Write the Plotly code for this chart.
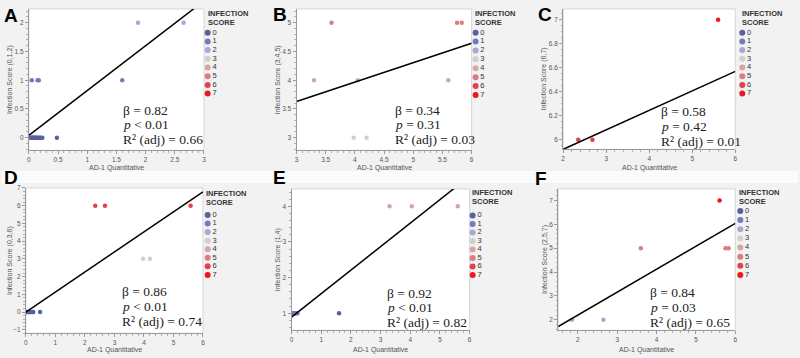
import plotly.graph_objects as go

W, H = 800, 358

# ---------------- data ----------------
score_labels = ["0", "1", "2", "3", "4", "5", "6", "7"]
score_colors = ["#56619e", "#7679c0", "#a7a8d5", "#d0d0d0", "#d6a5a8", "#d87e84", "#e3414b", "#ee1620"]

panel_letters = ["A", "B", "C", "D", "E", "F"]
y_titles = ["Infection Score (0,1,2)", "Infection Score (3,4,5)", "Infection Score (6,7)",
            "Infection Score (0,3,6)", "Infection Score (1,4)", "Infection Score (2,5,7)"]
x_title = "AD-1 Quantitative"

A_x = [0.03, 0.05, 0.06, 0.08, 0.09, 0.11, 0.12, 0.14, 0.16, 0.18, 0.20, 0.23, 0.48, 0.05, 0.15, 0.17, 1.60, 1.87, 2.65]
A_y = [0, 0, 0, 0, 0, 0, 0, 0, 0, 0, 0, 0, 0, 1, 1, 1, 1, 2, 2]
A_s = [0, 0, 0, 0, 0, 0, 0, 0, 0, 0, 0, 0, 0, 1, 1, 1, 1, 2, 2]

B_x = [3.60, 5.75, 5.83, 3.30, 4.05, 5.60, 3.98, 4.20]
B_y = [5, 5, 5, 4, 4, 4, 3, 3]
B_s = [5, 5, 5, 4, 4, 4, 3, 3]

C_x = [2.35, 2.68, 5.60]
C_y = [6, 6, 7]
C_s = [6, 6, 7]

D_x = [0.02, 0.05, 0.08, 0.10, 0.12, 0.15, 0.18, 0.22, 0.25, 0.48, 3.97, 4.20, 2.35, 2.68, 5.58]
D_y = [0, 0, 0, 0, 0, 0, 0, 0, 0, 0, 3, 3, 6, 6, 6]
D_s = [0, 0, 0, 0, 0, 0, 0, 0, 0, 0, 3, 3, 6, 6, 6]

E_x = [0.02, 0.05, 0.08, 0.10, 0.13, 0.16, 0.20, 1.60, 3.30, 4.05, 5.60]
E_y = [1, 1, 1, 1, 1, 1, 1, 1, 4, 4, 4]
E_s = [1, 1, 1, 1, 1, 1, 1, 0, 4, 4, 4]

F_x = [1.85, 2.65, 3.60, 5.75, 5.83, 5.60]
F_y = [2, 2, 5, 5, 5, 7]
F_s = [2, 2, 5, 5, 5, 7]

# regression fits (intercept, slope) in axis units
fit_intercept = [0.04, 2.62, 5.595, 0.0, 0.89, 0.28]
fit_slope = [0.78, 0.337, 0.1625, 1.13, 0.66, 0.96]

betas = ["0.82", "0.34", "0.58", "0.86", "0.92", "0.84"]
p_ops = ["<", "=", "=", "<", "<", "="]
p_vals = ["0.01", "0.31", "0.42", "0.01", "0.01", "0.03"]
r2_vals = ["0.66", "0.03", "0.01", "0.74", "0.82", "0.65"]

x_ranges = [[0, 3], [3, 6], [2, 6], [0, 6], [0, 6], [1.5, 6]]
y_ranges = [[-0.22, 2.24], [2.78, 5.24], [5.92, 7.09], [-1.2, 7.0], [0.52, 4.49], [1.56, 7.48]]
x_dticks = [0.5, 0.5, 1, 1, 1, 1]
y_dticks = [0.5, 0.5, 0.2, 1, 1, 1]

panels_x = [A_x, B_x, C_x, D_x, E_x, F_x]
panels_y = [A_y, B_y, C_y, D_y, E_y, F_y]
panels_s = [A_s, B_s, C_s, D_s, E_s, F_s]

# ---------------- layout geometry (pixels) ----------------
plot_boxes = [  # x0, x1, y0(top), y1(bottom)
    (27, 203, 5, 148),
    (296, 472, 5, 148),
    (564, 737, 5, 147),
    (24, 202, 186, 333),
    (291, 470, 187, 330),
    (559, 737, 187, 330),
]
ytitle_x = [7.5, 277, 545, 7.5, 277, 545]
xtitle_y = [166, 166, 166, 350, 350, 350]
stat_x = [120.7, 394.3, 661.7, 120, 385.7, 650.7]
stat_y = [(107.7, 122.3, 137.3), (107.3, 121.7, 136.7), (108.3, 124, 139.3),
          (291, 306, 320.7), (292.3, 306.7, 322), (291.7, 306.7, 322.3)]
letter_pos = [(1.5, 12), (271, 10.5), (538, 10.5), (1.5, 175.5), (271, 175.5), (535, 176)]
legend_title_x = [206, 474.3, 742.7, 204, 471.7, 739.3]
legend_title_y = [(10, 19), (10, 19), (10, 19), (191.7, 200.7), (191, 200), (191, 200)]
legend_marker_x = [206.7, 476, 744, 206.7, 473, 742]
legend_first_y = [29, 29, 29, 213.3, 214, 209.3]
legend_step = [8.8, 9.0, 8.8, 8.67, 8.57, 9.24]
row_gap = (169, 181)

def px_x(v):
    return v / W

def px_y(v):
    return 1 - v / H

fig = go.Figure()
layout = dict(
    width=W, height=H,
    margin=dict(l=0, r=0, t=0, b=0),
    paper_bgcolor="#f2f2f2",
    plot_bgcolor="rgba(0,0,0,0)",
    showlegend=False,
    font=dict(family="Liberation Sans, Arial, sans-serif", size=7, color="#555"),
)
annotations = []
shapes = [dict(type="rect", xref="paper", yref="paper", x0=0, x1=1, y0=px_y(row_gap[1]), y1=px_y(row_gap[0]),
               fillcolor="#fbfbfb", line=dict(width=0), layer="below")]

for i in range(6):
    n = i + 1
    xa = "x" if n == 1 else f"x{n}"
    ya = "y" if n == 1 else f"y{n}"
    x0, x1, y0, y1 = plot_boxes[i]
    axis_common = dict(showgrid=False, zeroline=False, showline=True, linecolor="#9a9a9a", linewidth=1,
                       ticks="outside", ticklen=3, tickcolor="#9a9a9a", tickfont=dict(size=6.5, color="#555"),
                       minor=dict(ticks="outside", ticklen=1.5, tickcolor="#b0b0b0"))
    layout[f"xaxis{'' if n == 1 else n}"] = dict(axis_common, domain=[px_x(x0), px_x(x1)], range=x_ranges[i],
                                                  dtick=x_dticks[i], anchor=ya)
    layout[f"yaxis{'' if n == 1 else n}"] = dict(axis_common, domain=[px_y(y1), px_y(y0)], range=y_ranges[i],
                                                  dtick=y_dticks[i], anchor=xa)
    # white plot area
    shapes.append(dict(type="rect", xref=f"{xa} domain", yref=f"{ya} domain", x0=0, x1=1, y0=0, y1=1,
                       fillcolor="white", line=dict(color="#d6d6d6", width=1), layer="below"))

    # data points
    fig.add_trace(go.Scatter(x=panels_x[i], y=panels_y[i], mode="markers", xaxis=xa, yaxis=ya,
                             marker=dict(size=4.5, color=[score_colors[s] for s in panels_s[i]],
                                         line=dict(width=0)), hoverinfo="x+y"))
    # regression line
    lx = x_ranges[i]
    ly = [fit_intercept[i] + fit_slope[i] * v for v in lx]
    fig.add_trace(go.Scatter(x=lx, y=ly, mode="lines", xaxis=xa, yaxis=ya,
                             line=dict(color="black", width=1.5), hoverinfo="skip"))

    # stats text
    lines = [f"β = {betas[i]}", f"<i>p</i> {p_ops[i]} {p_vals[i]}", f"R² (adj) = {r2_vals[i]}"]
    for t, yy in zip(lines, stat_y[i]):
        annotations.append(dict(text=t, xref="paper", yref="paper", x=px_x(stat_x[i]), y=px_y(yy),
                                xanchor="left", yanchor="middle", showarrow=False, borderpad=0,
                                font=dict(family="Liberation Serif, Times New Roman, serif", size=13.5, color="#222")))
    # axis titles
    annotations.append(dict(text=y_titles[i], xref="paper", yref="paper", x=px_x(ytitle_x[i]),
                            y=px_y((y0 + y1) / 2), textangle=-90, showarrow=False,
                            xanchor="center", yanchor="middle", font=dict(size=7, color="#555")))
    annotations.append(dict(text=x_title, xref="paper", yref="paper", x=px_x((x0 + x1) / 2),
                            y=px_y(xtitle_y[i]), showarrow=False, xanchor="center", yanchor="middle",
                            borderpad=0, font=dict(size=7, color="#555")))
    # panel letter
    lx0, ly0 = letter_pos[i]
    annotations.append(dict(text=f"<b>{panel_letters[i]}</b>", xref="paper", yref="paper", x=px_x(lx0),
                            y=px_y(ly0), xanchor="left", yanchor="middle", showarrow=False, borderpad=0,
                            font=dict(family="Liberation Sans, Arial, sans-serif", size=19, color="black")))
    # legend title
    for t, yy in zip(["INFECTION", "SCORE"], legend_title_y[i]):
        annotations.append(dict(text=f"<b>{t}</b>", xref="paper", yref="paper", x=px_x(legend_title_x[i]),
                                y=px_y(yy), xanchor="left", yanchor="middle", showarrow=False, borderpad=0,
                                font=dict(size=7.5, color="#333")))

# legend swatches on a pixel-space overlay axis
leg_x, leg_y, leg_c, leg_t = [], [], [], []
for i in range(6):
    for k, lab in enumerate(score_labels):
        leg_x.append(legend_marker_x[i])
        leg_y.append(legend_first_y[i] + legend_step[i] * k)
        leg_c.append(score_colors[k])
        leg_t.append(lab)
fig.add_trace(go.Scatter(x=leg_x, y=leg_y, mode="markers+text", text=leg_t, textposition="middle right",
                         textfont=dict(size=7.5, color="#333"), xaxis="x7", yaxis="y7",
                         marker=dict(size=6, color=leg_c), hoverinfo="skip", cliponaxis=False))
layout["xaxis7"] = dict(domain=[0, 1], range=[0, W], visible=False, anchor="y7", fixedrange=True)
layout["yaxis7"] = dict(domain=[0, 1], range=[H, 0], visible=False, anchor="x7", fixedrange=True)

layout["annotations"] = annotations
layout["shapes"] = shapes
fig.update_layout(**layout)
fig.write_html("out.html", config={"displayModeBar": False},
               post_script="document.body.style.margin='0px';")
